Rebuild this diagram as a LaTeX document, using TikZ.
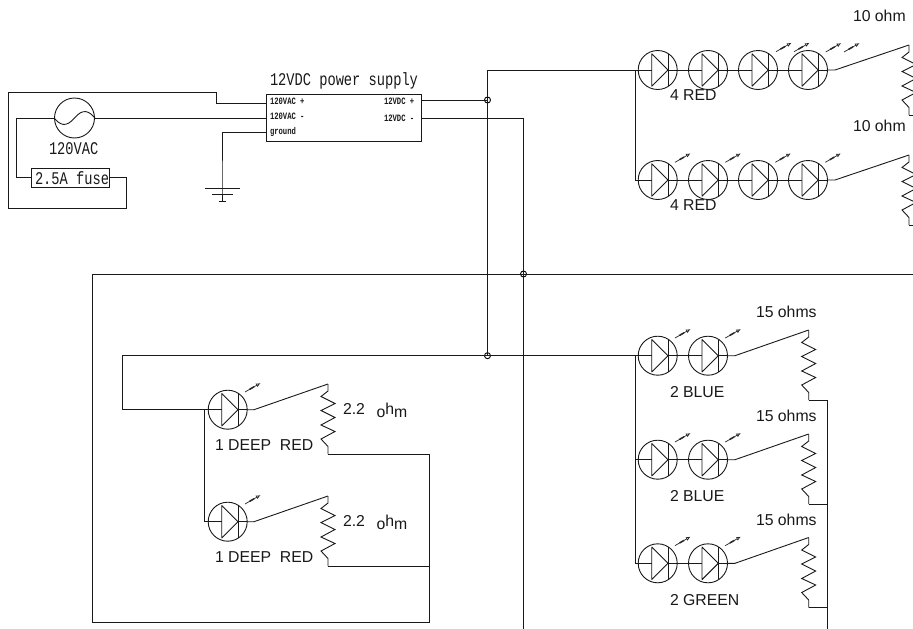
\documentclass[tikz,border=0pt]{standalone}
\usepackage{fontspec}
\setmainfont{Liberation Sans}
\newfontfamily\cadfont{Liberation Mono}
\usetikzlibrary{arrows.meta}
\newcommand{\cadbig}[1]{\scalebox{1}[1.3]{\cadfont\fontsize{13.7}{14}\selectfont #1}}
\newcommand{\cadsmall}[1]{\scalebox{1}[1.35]{\cadfont\bfseries\fontsize{7.2}{8}\selectfont #1}}
\tikzset{
  wire/.style={line width=0.9pt,black!90,line join=miter},
  ledbody/.style={circle,draw,line width=0.9pt,black!90,minimum size=39pt,inner sep=0pt,outer sep=0pt},
  dot/.style={circle,draw,line width=0.9pt,black,minimum size=6pt,inner sep=0pt},
  glintline/.style={line width=0.7pt,black!85,-{Latex[open,length=4.5pt,width=4pt]}},
  glintmid/.style={line width=1.5pt,black!85},
  lab/.style={anchor=base west,inner sep=0pt,outer sep=0pt,black!90,font=\fontsize{15.8}{16}\selectfont},
  cad/.style={anchor=base west,inner sep=0pt,outer sep=0pt,black!90},
  boxn/.style={draw,line width=0.9pt,black!90,inner sep=0pt,outer sep=0pt}
}
% name x y
\newcommand{\ledsym}[3]{%
  \node[ledbody] (#1) at (#2,#3) {};
  \draw[wire,line join=bevel] (#2-6,#3-16.3) -- (#2+10.3,#3) -- (#2-6,#3+16.3) -- cycle;
  \draw[wire] (#2+10.3,#3-16) -- (#2+10.3,#3+16);
  \draw[wire] (#1.west) -- (#2-6,#3);
  \draw[wire] (#2+10.3,#3) -- (#1.east);
}
\newcommand{\glint}[2]{%
  \draw[glintline] (#1,#2) -- (#1+15.5,#2-8.9);
  \draw[glintmid] (#1+4.5,#2-2.6) -- (#1+9,#2-5.2);
}
\newcommand{\ledg}[3]{\ledsym{#1}{#2}{#3}\glint{#2+17.3}{#3-17.7}}
% name x ytop : zigzag from (x,ytop) to (x,ytop+70)
\newcommand{\resist}[3]{%
  \coordinate (#1-t) at (#2,#3);
  \coordinate (#1-b) at (#2,#3+70);
  \draw[wire] (#1-t) -- (#2,#3+7) -- (#2-7,#3+12.5) -- (#2+7,#3+19.5) -- (#2-7,#3+26.5)
    -- (#2+7,#3+33.5) -- (#2-7,#3+41) -- (#2+7,#3+47.5) -- (#2-7,#3+55) -- (#2,#3+62.5) -- (#1-b);
}
\begin{document}
\begin{tikzpicture}[x=1pt,y=-1pt]
\clip (0,0) rectangle (913,629);
\fill[white] (0,0) rectangle (913,629);

% ---------- mains side
\node[boxn,minimum width=155pt,minimum height=47pt] (psu) at (343.5,117.5) {};
\node[circle,draw,line width=0.9pt,black!90,minimum size=40pt,inner sep=0pt] (src) at (74.5,118) {};
\draw[wire] (src.west) .. controls (60,125) and (66,128) .. (74.5,118)
            .. controls (83,108) and (89,111) .. (src.east);
\node[boxn,minimum width=78pt,minimum height=19pt] (fuse) at (70,177.5) {};
\node[cad] (fuset) at (35,184) {\cadbig{2.5A fuse}};
\node[cad] (srct) at (49,154) {\cadbig{120VAC}};
\node[cad] (psut) at (270,85.5) {\cadbig{12VDC power supply}};
\node[cad] (pa) at (270,104.5) {\cadsmall{120VAC +}};
\node[cad] (pb) at (270,119.5) {\cadsmall{120VAC -}};
\node[cad] (pc) at (270,134.5) {\cadsmall{ground}};
\node[cad] (pd) at (384,104.5) {\cadsmall{12VDC +}};
\node[cad] (pe) at (384,121) {\cadsmall{12VDC -}};

\coordinate (a1) at (266,103);
\coordinate (a2) at (216,92);
\coordinate (a3) at (8,208);
\coordinate (a4) at (126.5,177);
\draw[wire] (a1) -| (a2) -- (8,92) -- (a3) -| (a4) -- (fuse.east |- a4);
\draw[wire] (fuse.west) -| (16,118) -- (src.west);
\coordinate (a5) at (266,118);
\draw[wire] (src.east) -- (a5);
% ground
\coordinate (g0) at (266,132);
\coordinate (g1) at (222,188);
\coordinate (g2) at (222,201);
\draw[wire] (g0) -| (g1) -- (g2);
\draw[wire] (205,188) -- (240,188);
\draw[wire] (212,194.5) -- (233,194.5);
\draw[wire] (218.5,201) -- (225.5,201);

% ---------- DC buses
\node[dot] (j1) at (487.5,100) {};
\node[dot] (j2) at (487.5,355.7) {};
\node[dot] (j3) at (523.5,274) {};
\coordinate (dp) at (421,100);
\coordinate (dm) at (421,118);
\coordinate (busp) at (487.5,70);
\coordinate (busn) at (523.5,118);
\coordinate (bote) at (523.5,629);
\draw[wire] (dp) -- (j1.center);
\draw[wire] (busp) -- (j2.center);
\draw[wire] (dm) -- (busn) -- (bote);

% ---------- 4 RED rows
\ledsym{r1}{657.7}{70}\ledsym{r2}{708}{70}\ledsym{r3}{758}{70}\ledsym{r4}{808}{70}
\glint{776}{51.7}\glint{794}{51.7}\glint{825.7}{52}\glint{844}{52}
\draw[wire] (busp) -- (r1.west);
\draw[wire] (r1) -- (r2);\draw[wire] (r2) -- (r3);\draw[wire] (r3) -- (r4);
\resist{ra}{909}{45}
\coordinate (ra-w) at (835,70);
\draw[wire] (r4.east) -- (ra-w) -- (ra-t);
\draw[wire] (ra-b) -- (913,115);
\ledg{s1}{657.7}{180}\ledg{s2}{708}{180}\ledg{s3}{758}{180}\ledg{s4}{808}{180}
\draw[wire] (635,70) |- (s1.west);
\draw[wire] (s1) -- (s2);\draw[wire] (s2) -- (s3);\draw[wire] (s3) -- (s4);
\resist{rb}{909}{155}
\coordinate (rb-w) at (835,180);
\draw[wire] (s4.east) -- (rb-w) -- (rb-t);
\draw[wire] (rb-b) -- (913,225);
\node[lab] (t10a) at (853,21) {10 ohm};
\node[lab] (t10b) at (853,131.7) {10 ohm};
\node[lab] (t4a) at (670,100.7) {4 RED};
\node[lab] (t4b) at (670,210) {4 RED};

% ---------- return bus
\coordinate (c1) at (913,274);
\coordinate (c2) at (92,274);
\coordinate (c3) at (92,622);
\coordinate (c4) at (429.3,622);
\coordinate (c5) at (429.3,454);
\draw[wire] (c1) -- (c2) -- (c3) -- (c4) -- (c5);

% ---------- Deep red
\coordinate (d0) at (122.7,355.7);
\coordinate (d1) at (122.7,409.7);
\ledg{d}{227.7}{409.7}
\ledg{e}{227.7}{521.7}
\draw[wire] (j2.center) -- (d0) -- (d1) -- (d.west);
\draw[wire] (204.5,409.7) |- (e.west);
\resist{rd}{328}{384}
\resist{re}{328}{496}
\coordinate (d-w) at (254,409.7);
\coordinate (e-w) at (254,521.7);
\draw[wire] (d.east) -- (d-w) -- (rd-t);
\draw[wire] (e.east) -- (e-w) -- (re-t);
\draw[wire] (rd-b) -- (c5);
\draw[wire] (re-b) -- (429.3,566);
\node[lab] (td1) at (215,450) {1 DEEP\ \ RED};
\node[lab] (td2) at (215,562.7) {1 DEEP\ \ RED};
\node[lab] (td3) at (343,414) {2.2};
\node[lab] (td4) at (376.5,417) {o\raisebox{2.5pt}{h}m};
\node[lab] (td5) at (343,526) {2.2};
\node[lab] (td6) at (376.5,529) {o\raisebox{2.5pt}{h}m};

% ---------- Blue / green
\ledg{b1}{657.7}{355.7}\ledg{b2}{708}{355.7}
\ledg{f1}{657.7}{459.7}\ledg{f2}{708}{459.7}
\ledg{h1}{657.7}{563.3}\ledg{h2}{708}{563.3}
\draw[wire] (j2.center) -- (b1.west);
\draw[wire] (635,355.7) |- (f1.west);
\draw[wire] (635,459.7) |- (h1.west);
\draw[wire] (b1) -- (b2);\draw[wire] (f1) -- (f2);\draw[wire] (h1) -- (h2);
\resist{rf}{808.7}{330}
\resist{rg}{808.7}{434}
\resist{rh}{808.7}{537.5}
\coordinate (v0) at (827,400);
\coordinate (v1) at (827,629);
\draw[wire] (b2.east) -- (735,355.7) -- (rf-t);
\draw[wire] (f2.east) -- (735,459.7) -- (rg-t);
\draw[wire] (h2.east) -- (735,563.3) -- (rh-t);
\draw[wire] (rf-b) -- (v0) -- (v1);
\draw[wire] (rg-b) -- (827,504);
\draw[wire] (rh-b) -- (827,607.5);
\node[lab] (tb1) at (756,317.7) {15 ohms};
\node[lab] (tb2) at (756,421.7) {15 ohms};
\node[lab] (tb3) at (756,525.7) {15 ohms};
\node[lab] (tc1) at (670,397.7) {2 BLUE};
\node[lab] (tc2) at (670,501.3) {2 BLUE};
\node[lab] (tc3) at (670,605) {2 GREEN};
\end{tikzpicture}
\end{document}
